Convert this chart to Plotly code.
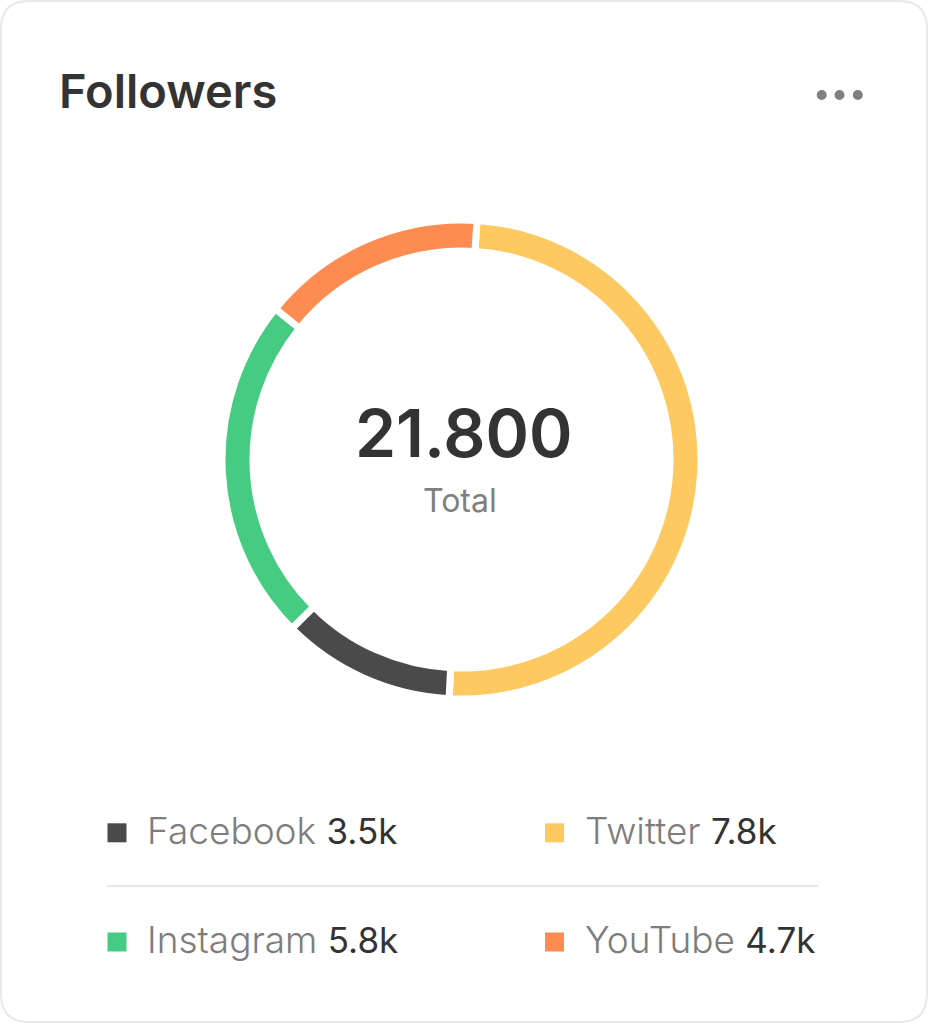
import plotly.graph_objects as go

# ---- data ----
platforms = ["Twitter", "Facebook", "Instagram", "YouTube"]
followers_label = ["7.8k", "3.5k", "5.8k", "4.7k"]
arc_share = [49.8, 11.7, 23.3, 15.2]          # share of the ring as drawn
colors = ["#FEC961", "#4A4A4A", "#45CB82", "#FE8C50"]
total_text = "21.800"
total_caption = "Total"
title_text = "Followers"

# legend layout order (row, col)
legend_order = ["Facebook", "Twitter", "Instagram", "YouTube"]

W, H = 928, 1024
def px(x):
    return x / W
def py(y):
    return 1 - y / H

FONT = "Inter"

fig = go.Figure()

R = 239.5
cx, cy = 461.5, 459.5
fig.add_trace(go.Pie(
    labels=platforms,
    values=arc_share,
    sort=False,
    direction="clockwise",
    rotation=3.7,
    hole=0.8706,
    marker=dict(colors=colors, line=dict(color="white", width=7)),
    textinfo="none",
    hoverinfo="label",
    showlegend=False,
    domain=dict(x=[px(cx - R), px(cx + R)], y=[py(cy + R), py(cy - R)]),
))

shapes = []
annotations = []

# card border (rounded rectangle)
r = 28
x0, x1, y0, y1 = 1, 927, 1, 1022
rx, ry = r / W, r / H
path = (
    f"M {px(x0)+rx},{py(y0)} L {px(x1)-rx},{py(y0)} Q {px(x1)},{py(y0)} {px(x1)},{py(y0)-ry} "
    f"L {px(x1)},{py(y1)+ry} Q {px(x1)},{py(y1)} {px(x1)-rx},{py(y1)} "
    f"L {px(x0)+rx},{py(y1)} Q {px(x0)},{py(y1)} {px(x0)},{py(y1)+ry} "
    f"L {px(x0)},{py(y0)-ry} Q {px(x0)},{py(y0)} {px(x0)+rx},{py(y0)} Z"
)
shapes.append(dict(type="path", xref="paper", yref="paper", path=path,
                   line=dict(color="#E8E8E8", width=2), fillcolor="rgba(0,0,0,0)", layer="below"))

# title
annotations.append(dict(text=title_text, x=px(57), y=py(90), xref="paper", yref="paper",
                        xanchor="left", yanchor="middle", showarrow=False,
                        font=dict(family=FONT, size=47, color="#333333", weight=600)))

# menu dots
for dx in [821.7, 839.5, 857.8]:
    shapes.append(dict(type="circle", xref="paper", yref="paper",
                       x0=px(dx - 5), x1=px(dx + 5), y0=py(95 + 5), y1=py(95 - 5),
                       fillcolor="#808080", line=dict(width=0)))

# center text
annotations.append(dict(text=total_text, x=px(463.5), y=py(433), xref="paper", yref="paper",
                        xanchor="center", yanchor="middle", showarrow=False,
                        font=dict(family=FONT, size=66, color="#333333", weight=600)))
annotations.append(dict(text=total_caption, x=px(459.5), y=py(500), xref="paper", yref="paper",
                        xanchor="center", yanchor="middle", showarrow=False,
                        font=dict(family=FONT, size=32, color="#808080", weight=400)))

# legend
col_sq = [107.5, 545]
col_tx = [145, 583]
row_sq = [832.8, 942]
row_tx = [830, 939.5]
for i, name in enumerate(legend_order):
    k = platforms.index(name)
    row, col = divmod(i, 2)
    sx, sy = col_sq[col], row_sq[row]
    shapes.append(dict(type="rect", xref="paper", yref="paper",
                       x0=px(sx), x1=px(sx + 19), y0=py(sy + 9.5), y1=py(sy - 9.5),
                       fillcolor=colors[k], line=dict(width=0)))
    annotations.append(dict(
        text=(f"{name} <span style='color:#333333;font-weight:400;font-size:35px'>"
              f"{followers_label[k]}</span>"),
        x=px(col_tx[col]), y=py(row_tx[row]), xref="paper", yref="paper",
        xanchor="left", yanchor="middle", showarrow=False,
        font=dict(family=FONT, size=37, color="#7D7D7D", weight=300)))

# divider
shapes.append(dict(type="line", xref="paper", yref="paper",
                   x0=px(107), x1=px(818), y0=py(886), y1=py(886),
                   line=dict(color="#E6E6E6", width=2)))

fig.update_layout(
    width=W, height=H,
    margin=dict(l=0, r=0, t=0, b=0),
    paper_bgcolor="white", plot_bgcolor="white",
    shapes=shapes, annotations=annotations,
)

fig.write_html("out.html")
